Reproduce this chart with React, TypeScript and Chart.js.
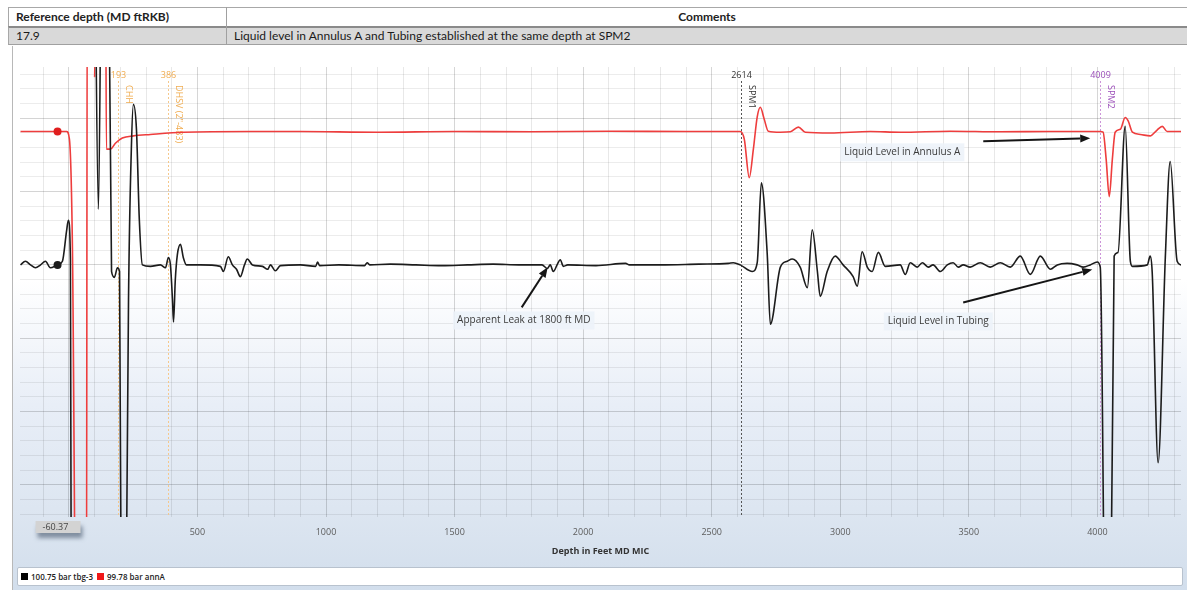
import React, { useEffect, useRef } from 'react';
import { Chart, registerables } from 'chart.js';

Chart.register(...registerables);

// ---------- table ----------
const TABLE_HEADERS = ['Reference depth (MD ftRKB)', 'Comments'];
const TABLE_ROW = ['17.9', 'Liquid level in Annulus A and Tubing established at the same depth at SPM2'];

// ---------- series ----------
const SERIES_NAMES = ['100.75 bar tbg-3', '99.78 bar annA'];
const SERIES_COLORS = ['#1c1c1c', '#ee3d3d'];
const LEGEND_COLORS = ['#000000', '#f01818'];

// tubing trace (depth ft, relative amplitude); null = signal out of range gap
const TBG_DEPTH = [
  -188, -169, -149, -130, -110, -91, -72, -44, -25, -9, -2, 6, 10, 45, 100, 115, 127, 140, 154, 166,
  177, 189, 197, 205, 214, 220, 232, 243, 251, 263, 274, 286, 317, 356, 376, 387, 395, 403, 407, 414,
  422, 434, 445, 457, 512, 589, 601, 620, 636, 652, 667, 683, 694, 714, 753, 773, 784, 803, 823, 900,
  960, 967, 975, 1050, 1150, 1160, 1170, 1250, 1350, 1450, 1550, 1650, 1750, 1840, 1861, 1872, 1884, 1900, 1911, 1923,
  1940, 2050, 2165, 2180, 2300, 2450, 2565, 2584, 2611, 2658, 2677, 2693, 2716, 2728, 2767, 2794, 2813, 2844, 2872, 2891,
  2911, 2922, 2949, 2980, 3011, 3050, 3066, 3085, 3105, 3124, 3148, 3175, 3233, 3253, 3272, 3299, 3319, 3342, 3361, 3389,
  3416, 3439, 3459, 3478, 3505, 3544, 3583, 3622, 3661, 3700, 3739, 3778, 3817, 3844, 3882, 3921, 3945, 3972, 3999, 4011,
  4030, 4040, 4050, 4065, 4080, 4108, 4128, 4136, 4194, 4205, 4213, 4236, 4264, 4283, 4310, 4325,
];
const TBG_VALUE = [
  0, 0.25, 0, -0.2, 0, 0.25, -0.2, 0, 0.25, 2.3, 3.05, 0.4, -30, null, 25, 3.8, 25, null, 25, -0.45,
  -0.85, -0.2, -0.45, -30, null, -30, -2.4, 7.9, 10.95, 9.2, 3.1, 0, -0.1, 0, -0.2, 0.5, 0, -2.4, -3.9, -1,
  0.7, 1.4, 0.5, 0, 0, -0.1, -0.45, 0.55, 0, -0.3, -0.8, 0, 0.4, 0, -0.1, -0.3, 0, -0.4, -0.05, 0,
  -0.1, 0.2, -0.05, 0, -0.05, 0.15, 0, 0.05, 0, -0.05, 0, 0.05, 0, 0, -0.25, 0, -0.45, 0.05, 0.35, -0.1,
  0, -0.05, 0.1, 0, 0, 0.05, 0.1, 0.15, 0, -0.45, 0.15, 5.6, 0.7, -4.05, -0.15, 0.25, 0.4, -0.15, -1.55, 2.4,
  -0.45, -2.15, -0.45, 0.6, 0, -0.8, -1.45, 0.9, -0.15, -0.45, 0.85, -0.1, 0, -0.65, 0.15, -0.15, 0.15, -0.15, 0, -0.45,
  0, 0.15, -0.15, 0, -0.15, 0.15, -0.15, 0.15, -0.15, 0.6, -0.65, 0.6, -0.3, 0, 0.1, 0, -0.15, 0, 0.2, -0.15,
  -30, null, -30, 0.6, 0.85, 9.45, 0.25, -0.1, 0, 0.6, -0.5, -13.5, 0.5, 7.05, 0.25, 0,
];

// annulus A trace
const ANN_DEPTH = [
  -188, -44, -9, 2, 14, 30, 68, 72, 96, 100, 107, 142, 146, 162, 181, 208, 251, 317, 446, 707,
  900, 1200, 1500, 1800, 2100, 2400, 2611, 2627, 2646, 2662, 2677, 2689, 2704, 2720, 2767, 2806, 2837, 2864, 2961, 3117,
  3233, 3428, 3622, 3817, 4011, 4022, 4034, 4046, 4058, 4069, 4089, 4108, 4120, 4136, 4167, 4205, 4232, 4252, 4271, 4325,
];
const ANN_VALUE = [
  9.1, 9.1, 9.1, 8.6, 1.05, -30, -30, 25, 25, 12.8, 25, 25, 7.9, 7.9, 8.3, 8.65, 8.8, 8.9, 9.05, 9.1,
  9.1, 9.05, 9.1, 9.08, 9.12, 9.1, 9.1, 8.55, 5.95, 7.9, 10.1, 10.75, 9.95, 9.12, 9.05, 9.08, 9.4, 9.05, 9.0, 9.1,
  9.05, 9.12, 9.08, 9.1, 9.1, 9.05, 7.2, 4.65, 7.2, 9.05, 9.25, 10.05, 9.8, 9.05, 8.9, 8.8, 9.2, 9.45, 9.1, 9.1,
];

// cursor
const CURSOR_DEPTH = -44;
const CURSOR_LABEL = '-60.37';

// axis
const X_MIN = -190;
const X_MAX = 4325;
const Y_MIN = -17.2;
const Y_MAX = 13.5;
const X_TICK_LABELS = [500, 1000, 1500, 2000, 2500, 3000, 3500, 4000];
const X_TITLE = 'Depth in Feet MD MIC';

// completion markers
const MARKER_DEPTHS = [193, 386, 2614, 4009];
const MARKER_NAMES = ['CHH', 'DHSV (2"-483)', 'SPM1', 'SPM2'];
const MARKER_TEXT_COLORS = ['#f0ac50', '#f0ac50', '#333333', '#9a4db8'];
const MARKER_LINE_COLORS = ['#f5c88c', '#f5c88c', '#555555', '#cc94d8'];

// annotations
const NOTE_TEXT = ['Liquid Level in Annulus A', 'Liquid Level in Tubing', 'Apparent Leak at 1800 ft MD'];
const NOTE_DEPTH = [3241, 3381, 1769];
const NOTE_VALUE = [7.68, -3.86, -3.79];
const ARROW_FROM_DEPTH = [3556, 3478, 1761];
const ARROW_FROM_VALUE = [8.43, -2.56, -2.9];
const ARROW_TO_DEPTH = [3972, 3980, 1862];
const ARROW_TO_VALUE = [8.64, -0.31, -0.17];

const FONT = '"Open Sans", "Noto Sans", sans-serif';

const toPoints = (d: number[], v: (number | null)[]) => d.map((x, i) => ({ x, y: v[i] }));

const overlayPlugin = {
  id: 'overlay',
  beforeDatasetsDraw(chart: any) {
    const { ctx, chartArea, scales } = chart;
    const x = scales.x;
    ctx.save();
    MARKER_DEPTHS.forEach((d, i) => {
      const px = Math.round(x.getPixelForValue(d)) + 0.5;
      ctx.strokeStyle = MARKER_LINE_COLORS[i];
      ctx.lineWidth = 1;
      ctx.setLineDash([2, 2]);
      ctx.beginPath();
      ctx.moveTo(px, chartArea.top + 14);
      ctx.lineTo(px, chartArea.bottom);
      ctx.stroke();
      ctx.setLineDash([]);
      ctx.fillStyle = MARKER_TEXT_COLORS[i];
      ctx.font = `9px ${FONT}`;
      ctx.textAlign = 'center';
      ctx.textBaseline = 'middle';
      ctx.fillText(String(d), px, chartArea.top + 8);
      ctx.save();
      ctx.translate(px + 10, chartArea.top + 18);
      ctx.rotate(Math.PI / 2);
      ctx.textAlign = 'left';
      ctx.fillText(MARKER_NAMES[i], 0, 0);
      ctx.restore();
    });
    ctx.restore();
  },
  afterDatasetsDraw(chart: any) {
    const { ctx, chartArea, scales } = chart;
    const x = scales.x;
    const y = scales.y;
    ctx.save();
    NOTE_TEXT.forEach((t, i) => {
      const tx = x.getPixelForValue(NOTE_DEPTH[i]);
      const ty = y.getPixelForValue(NOTE_VALUE[i]);
      ctx.font = `10px ${FONT}`;
      const w = ctx.measureText(t).width;
      ctx.fillStyle = 'rgba(236,242,249,0.85)';
      ctx.fillRect(tx - w / 2 - 4, ty - 9, w + 8, 18);
      ctx.fillStyle = '#3a3a3a';
      ctx.textAlign = 'center';
      ctx.textBaseline = 'middle';
      ctx.fillText(t, tx, ty);
      const x1 = x.getPixelForValue(ARROW_FROM_DEPTH[i]);
      const y1 = y.getPixelForValue(ARROW_FROM_VALUE[i]);
      const x2 = x.getPixelForValue(ARROW_TO_DEPTH[i]);
      const y2 = y.getPixelForValue(ARROW_TO_VALUE[i]);
      const a = Math.atan2(y2 - y1, x2 - x1);
      const hl = 10;
      const hw = 4;
      const bx = x2 - hl * Math.cos(a);
      const by = y2 - hl * Math.sin(a);
      ctx.strokeStyle = '#151515';
      ctx.fillStyle = '#151515';
      ctx.lineWidth = 2;
      ctx.beginPath();
      ctx.moveTo(x1, y1);
      ctx.lineTo(bx, by);
      ctx.stroke();
      ctx.beginPath();
      ctx.moveTo(x2, y2);
      ctx.lineTo(bx + hw * Math.sin(a), by - hw * Math.cos(a));
      ctx.lineTo(bx - hw * Math.sin(a), by + hw * Math.cos(a));
      ctx.closePath();
      ctx.fill();
    });
    const cx = x.getPixelForValue(CURSOR_DEPTH);
    const top = chartArea.bottom + 4;
    ctx.save();
    ctx.shadowColor = 'rgba(90,105,125,0.7)';
    ctx.shadowBlur = 4;
    ctx.shadowOffsetX = 2;
    ctx.shadowOffsetY = 5;
    ctx.fillStyle = '#d3d3d3';
    ctx.fillRect(cx - 22, top, 45, 12);
    ctx.restore();
    ctx.fillStyle = '#444';
    ctx.font = `9px ${FONT}`;
    ctx.textAlign = 'left';
    ctx.textBaseline = 'middle';
    ctx.fillText(CURSOR_LABEL, cx - 15, top + 6);
    ctx.restore();
  },
};

export default function App() {
  const ref = useRef<HTMLCanvasElement>(null);

  useEffect(() => {
    const cursorRadius = (c: any) => (c.raw && c.raw.x === CURSOR_DEPTH ? 4 : 0);
    const chart = new Chart(ref.current as HTMLCanvasElement, {
      type: 'line',
      data: {
        datasets: [
          {
            label: SERIES_NAMES[0],
            data: toPoints(TBG_DEPTH, TBG_VALUE) as any,
            borderColor: SERIES_COLORS[0],
            backgroundColor: SERIES_COLORS[0],
            borderWidth: 1.6,
            pointRadius: cursorRadius as any,
            pointBorderWidth: 0,
            cubicInterpolationMode: 'monotone',
          },
          {
            label: SERIES_NAMES[1],
            data: toPoints(ANN_DEPTH, ANN_VALUE) as any,
            borderColor: SERIES_COLORS[1],
            backgroundColor: '#e01e1e',
            borderWidth: 1.6,
            pointRadius: cursorRadius as any,
            pointBorderWidth: 0,
            cubicInterpolationMode: 'monotone',
          },
        ],
      },
      options: {
        animation: false,
        responsive: false,
        maintainAspectRatio: false,
        parsing: false as any,
        normalized: true,
        layout: { padding: { left: 20, right: 6, top: 20, bottom: 0 } },
        plugins: { legend: { display: false }, tooltip: { enabled: false } },
        scales: {
          x: {
            type: 'linear',
            min: X_MIN,
            max: X_MAX,
            ticks: {
              stepSize: 100,
              autoSkip: false,
              maxRotation: 0,
              includeBounds: false,
              padding: 10,
              color: '#5c5c5c',
              font: { family: FONT, size: 9 },
              callback: (v: any) => (X_TICK_LABELS.includes(Number(v)) ? String(v) : ''),
            },
            grid: {
              drawTicks: false,
              color: (c: any) => (c.tick && c.tick.value % 500 === 0 ? 'rgba(0,0,0,0.16)' : 'rgba(0,0,0,0.09)'),
            },
            border: { display: false },
            title: {
              display: true,
              text: X_TITLE,
              color: '#333',
              font: { family: FONT, size: 9, weight: 'bold' },
              padding: { top: 2, bottom: 10 },
            },
            afterFit: (s: any) => {
              s.height = 50;
            },
          } as any,
          y: {
            type: 'linear',
            min: Y_MIN,
            max: Y_MAX,
            ticks: { display: false, stepSize: 1, includeBounds: false },
            grid: {
              drawTicks: false,
              color: (c: any) => (c.tick && Math.round(c.tick.value) % 5 === 0 ? 'rgba(0,0,0,0.17)' : 'rgba(0,0,0,0.075)'),
            },
            border: { display: false },
            afterFit: (s: any) => {
              s.width = 0;
            },
          } as any,
        },
      },
      plugins: [overlayPlugin],
    });
    return () => chart.destroy();
  }, []);

  const cell: React.CSSProperties = {
    position: 'absolute',
    fontFamily: 'Lato, "Liberation Sans", sans-serif',
    fontSize: 12,
    color: '#1a1a1a',
    whiteSpace: 'nowrap',
    lineHeight: '18px',
  };

  return (
    <div style={{ position: 'absolute', left: 0, top: 0, width: 1187, height: 590, background: '#fff', overflow: 'hidden' }}>
      <div style={{ position: 'absolute', left: 8, top: 7, width: 1179, height: 19, borderTop: '1px solid #a8a8a8', borderLeft: '1px solid #a8a8a8', boxSizing: 'border-box' }} />
      <div style={{ position: 'absolute', left: 8, top: 26, width: 1179, height: 19, background: '#d9d9d9', borderTop: '2px solid #8a8a8a', borderBottom: '1px solid #a0a0a0', borderLeft: '1px solid #a8a8a8', boxSizing: 'border-box' }} />
      <div style={{ position: 'absolute', left: 226, top: 7, width: 1, height: 38, background: '#a0a0a0' }} />
      <div style={{ ...cell, left: 16, top: 8, fontWeight: 700, color: '#222' }}>{TABLE_HEADERS[0]}</div>
      <div style={{ ...cell, left: 227, width: 960, top: 8, textAlign: 'center', fontWeight: 700, color: '#222' }}>{TABLE_HEADERS[1]}</div>
      <div style={{ ...cell, left: 16, top: 27 }}>{TABLE_ROW[0]}</div>
      <div style={{ ...cell, left: 234, top: 27 }}>{TABLE_ROW[1]}</div>

      <div
        style={{
          position: 'absolute',
          left: 12,
          top: 46,
          width: 1175,
          height: 544,
          borderLeft: '1px solid #b8b8b8',
          background: 'linear-gradient(180deg, #ffffff 0%, #ffffff 43%, #e8eef7 66%, #dde6f1 85%, #d2deec 100%)',
        }}
      />
      <canvas ref={ref} width={1187} height={520} style={{ position: 'absolute', left: 0, top: 47, width: 1187, height: 520 }} />

      <div
        style={{
          position: 'absolute',
          left: 17,
          top: 567,
          width: 1166,
          height: 19,
          background: '#fff',
          border: '1px solid #b8c2ce',
          borderRadius: 2,
          boxSizing: 'border-box',
          display: 'flex',
          alignItems: 'center',
          paddingLeft: 3,
          fontFamily: FONT,
          fontSize: 8,
          fontWeight: 600,
          color: '#222',
        }}
      >
        {SERIES_NAMES.map((n, i) => (
          <span key={n} style={{ display: 'inline-flex', alignItems: 'center', marginRight: 4 }}>
            <span style={{ display: 'inline-block', width: 7, height: 7, background: LEGEND_COLORS[i], marginRight: 3 }} />
            {n}
          </span>
        ))}
      </div>
    </div>
  );
}
